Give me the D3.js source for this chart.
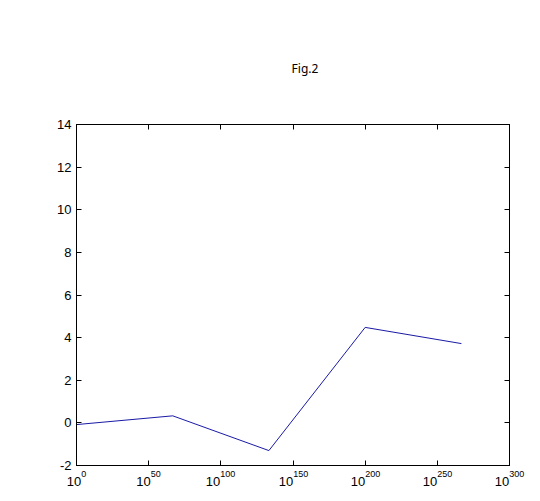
<!DOCTYPE html>
<html><head><meta charset="utf-8">
<script src="https://cdn.jsdelivr.net/npm/d3@7"></script>
<style>body{margin:0;background:#fff}svg{display:block}</style>
</head><body>
<script>
const titleText = "Fig.2";
const xValues = [1e0, 5e66, 2e133, 1e200, 5e266];
const yValues = [-0.08, 0.33, -1.3, 4.48, 3.72];
const xTickExponents = [0, 50, 100, 150, 200, 250, 300];
const yTicks = [-2, 0, 2, 4, 6, 8, 10, 12, 14];

const W = 540, H = 501;
const L = 76.5, R = 509.5, T = 124.5, B = 465.5;
const svg = d3.select("body").append("svg").attr("width", W).attr("height", H);
svg.append("rect").attr("width", W).attr("height", H).attr("fill", "#fff");

const x = d3.scaleLog().domain([1e0, 1e300]).range([L, R]);
const y = d3.scaleLinear().domain([-2, 14]).range([B, T]);

const font = "'Liberation Sans', Arial, sans-serif";

// line
const line = d3.line().x((d, i) => x(xValues[i])).y(d => y(d));
svg.append("path").datum(yValues).attr("d", line)
  .attr("fill", "none").attr("stroke", "#1a1aa6").attr("stroke-width", 1);

// box
svg.append("rect").attr("x", L).attr("y", T).attr("width", R - L).attr("height", B - T)
  .attr("fill", "none").attr("stroke", "#000").attr("stroke-width", 1);

const tk = 5;
// y ticks
yTicks.forEach(v => {
  const py = Math.round(y(v) - 0.5) + 0.5;
  svg.append("line").attr("x1", L).attr("x2", L + tk).attr("y1", py).attr("y2", py).attr("stroke", "#000");
  svg.append("line").attr("x1", R).attr("x2", R - tk).attr("y1", py).attr("y2", py).attr("stroke", "#000");
  svg.append("text").attr("x", L - 5).attr("y", y(v) + 4.5).attr("text-anchor", "end")
    .attr("font-family", font).attr("font-size", 13).attr("fill", "#000").text(v);
});
// x ticks
xTickExponents.forEach(e => {
  const px = Math.round(x(Math.pow(10, e)) - 0.5) + 0.5;
  svg.append("line").attr("x1", px).attr("x2", px).attr("y1", B).attr("y2", B - tk).attr("stroke", "#000");
  svg.append("line").attr("x1", px).attr("x2", px).attr("y1", T).attr("y2", T + tk).attr("stroke", "#000");
  const t = svg.append("text").attr("x", px).attr("y", 486).attr("text-anchor", "middle")
    .attr("font-family", font).attr("font-size", 13).attr("fill", "#000");
  t.append("tspan").text("10");
  t.append("tspan").attr("dy", -9).attr("font-size", 9).text(e);
});

svg.append("text").attr("x", 305).attr("y", 73).attr("text-anchor", "middle")
  .attr("font-family", "'Noto Sans', 'Open Sans', sans-serif").attr("font-size", 12).attr("fill", "#000")
  .text(titleText);
</script>
</body></html>
